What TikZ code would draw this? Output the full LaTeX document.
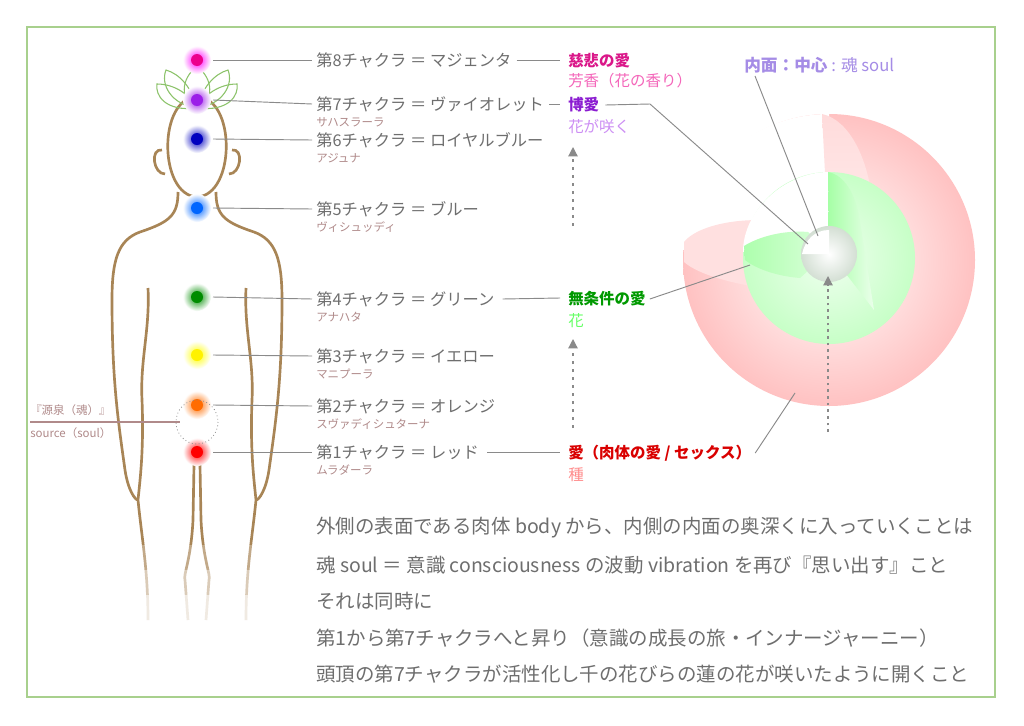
\documentclass[tikz,border=0pt]{standalone}
\usepackage{fontspec}
\setmainfont{Noto Sans CJK JP}
\usetikzlibrary{arrows.meta}
\definecolor{frame}{HTML}{A8D08D}
\definecolor{skin}{HTML}{A88556}
\definecolor{lab}{HTML}{6E6E6E}
\definecolor{sub}{HTML}{B08A8A}
\definecolor{lgrey}{HTML}{8A8A8A}
\definecolor{vio}{HTML}{9B1FE8}
\definecolor{lotus}{HTML}{8CC36A}
\definecolor{lav}{HTML}{A58CE6}
\tikzset{
 lbl/.style={anchor=west,inner sep=0,text=lab,font=\fontsize{12.2pt}{14pt}\selectfont},
 slbl/.style={anchor=west,inner sep=0,text=sub,font=\fontsize{8.6pt}{10pt}\selectfont},
 rlbl/.style={anchor=west,inner sep=0,font=\fontsize{11.6pt}{13pt}\selectfont\bfseries},
 rsub/.style={anchor=west,inner sep=0,font=\fontsize{11.6pt}{13pt}\selectfont},
 body/.style={draw=skin,line width=2pt},
 lead/.style={draw=lgrey,line width=0.7pt},
 dotarrow/.style={draw=lgrey,line width=0.9pt,dash pattern=on 2.5pt off 3.5pt,-{Triangle[length=7pt,width=7pt]}},
 txt/.style={anchor=west,inner sep=0,text=lab,font=\fontsize{14.6pt}{16pt}\selectfont},
}
\begin{document}
\begin{tikzpicture}[x=0.75pt,y=-0.75pt]
\useasboundingbox (0,0) rectangle (1024,725);
\fill[white] (0,0) rectangle (1024,725);
\draw[frame,line width=1.5pt] (27,27) rectangle (995,697);
% body
\draw[body] (197,97) .. controls (158,97) and (158,195) .. (197,197) .. controls (236,195) and (236,97) .. (197,97);
\draw[body] (162,150) .. controls (150,148) and (153,174) .. (165,174);
\draw[body] (232,150) .. controls (244,148) and (241,174) .. (229,174);
\draw[body] (178,192) .. controls (178,215) and (170,222) .. (140,232) .. controls (118,240) and (112,260) .. (112,300) .. controls (112,380) and (118,420) .. (125,470) .. controls (128,490) and (135,500) .. (138,500);
\draw[body] (216,192) .. controls (216,215) and (224,222) .. (254,232) .. controls (276,240) and (282,260) .. (282,300) .. controls (282,380) and (276,420) .. (269,470) .. controls (266,490) and (259,500) .. (256,500);
\draw[body] (148,288) .. controls (150,330) and (140,360) .. (142,400) .. controls (144,450) and (140,480) .. (138,500) .. controls (142,540) and (148,570) .. (148,620);
\draw[body] (246,288) .. controls (244,330) and (254,360) .. (252,400) .. controls (250,450) and (254,480) .. (256,500) .. controls (252,540) and (246,570) .. (246,620);
\draw[body] (194,465) -- (193,520) .. controls (191,560) and (183,575) .. (185,580) -- (188,620);
\draw[body] (200,465) -- (201,520) .. controls (203,560) and (211,575) .. (209,580) -- (206,620);
\fill[white,opacity=0.3] (100,545) rectangle (300,640);
\fill[white,opacity=0.4] (100,570) rectangle (300,640);
\fill[white,opacity=0.6] (100,595) rectangle (300,640);
% lotus
\begin{scope}[draw=lotus,line width=0.8pt,fill=white]
\draw (197,108) .. controls (165,112) and (155,95) .. (157,84) .. controls (175,84) and (190,95) .. (197,108);
\draw (197,108) .. controls (229,112) and (239,95) .. (237,84) .. controls (219,84) and (204,95) .. (197,108);
\draw (197,108) .. controls (172,105) and (160,85) .. (166,70) .. controls (180,74) and (192,88) .. (197,108);
\draw (197,108) .. controls (222,105) and (234,85) .. (228,70) .. controls (214,74) and (202,88) .. (197,108);
\draw (197,108) .. controls (180,100) and (180,80) .. (197,66) .. controls (214,80) and (214,100) .. (197,108);
\end{scope}
% chakras
\foreach \y/\c/\n in {60/magenta/c8,100/vio/c7,139/blue!75!black/c6,208/blue!60!cyan/c5,297/green!55!black/c4,355/yellow/c3,405/orange!85!red/c2,452/red/c1}{
 \shade[inner color=\c,outer color=white] (197,\y) circle (14);
 \fill[\c] (197,\y) circle (6);
 \coordinate (\n) at (213,\y);
}
\draw[lgrey,line width=0.6pt,dotted] (197,422) ellipse (21 and 22);
% left labels
\node[slbl] (src1) at (30,410) {『源泉（魂）』};
\draw[sub,line width=0.8pt] (30,422) coordinate (sl) -- (180,422) coordinate (sr);
\node[slbl] (src2) at (30,433) {source（soul）};
% chakra labels
\foreach \y/\t/\s/\n in {60/第8チャクラ ＝ マジェンタ//c8,104/第7チャクラ ＝ ヴァイオレット/サハスラーラ/c7,140/第6チャクラ ＝ ロイヤルブルー/アジュナ/c6,209/第5チャクラ ＝ ブルー/ヴィシュッディ/c5,299/第4チャクラ ＝ グリーン/アナハタ/c4,356/第3チャクラ ＝ イエロー/マニプーラ/c3,406/第2チャクラ ＝ オレンジ/スヴァディシュターナ/c2,452/第1チャクラ ＝ レッド/ムラダーラ/c1}{
 \node[lbl] (L\n) at (316,\y) {\t};
 \node[slbl] at (316,\y+18) {\s};
 \draw[lead] (\n) -- (312,\y);
}
% right labels
\node[rlbl,text=magenta!90!black] (R8) at (568,61) {慈悲の愛};
\node[rsub,text=magenta!60] at (568,81) {芳香（花の香り）};
\node[rlbl,text=vio!90!black] (R7) at (568,105) {博愛};
\node[rsub,text=vio!50] at (568,127) {花が咲く};
\node[rlbl,text=green!60!black] (R4) at (568,299) {無条件の愛};
\node[rsub,text=green!60] at (568,321) {花};
\node[rlbl,text=red!85!black] (R1) at (568,453) {愛（肉体の愛 / セックス）};
\node[rsub,text=red!45] at (568,475) {種};
\draw[lead] (Lc8.east)+(5,0) -- (560,60);
\draw[lead] (Lc7.east)+(5,0) -- (560,104);
\draw[lead] (Lc4.east)+(8,0) -- (560,298);
\draw[lead] (Lc1.east)+(8,0) -- (560,452);
\draw[dotarrow] (573,226) -- (573,147);
\draw[dotarrow] (573,428) -- (573,339);
% sphere outer
\shade[inner color=white,outer color=red!24] (829,260) circle (146);
\fill[white] (829,250) -- (829,114) .. controls (750,114) and (683,175) .. (683,250) -- cycle;
\fill[red!12] (684,242) .. controls (700,222) and (760,212) .. (812,228) -- (829,252) -- (790,292) .. controls (740,286) and (700,276) .. (684,262) -- cycle;
\shade[top color=red!14,bottom color=red!4] (829,252) -- (822,114) .. controls (850,120) and (868,160) .. (872,200) -- (872,305) -- cycle;
% green
\shade[inner color=green!6,outer color=green!22] (829,258) circle (86);
\fill[white] (829,250) -- (829,172) .. controls (785,172) and (743,210) .. (743,252) -- cycle;
\shade[left color=green!32,right color=green!14] (744,246) .. controls (760,236) and (785,230) .. (808,232) -- (829,252) -- (800,278) .. controls (775,276) and (755,268) .. (745,260) -- cycle;
\shade[left color=green!35,right color=green!8] (829,252) -- (828,172) .. controls (845,175) and (855,195) .. (859,215) -- (874,310) -- cycle;
% core
\shade[inner color=white,outer color=green!15!gray!30] (829,254) circle (28);
\fill[white] (829,254) -- (829,230) .. controls (815,230) and (805,240) .. (802,254) -- cycle;
\node[anchor=west,inner sep=0,text=lav,font=\fontsize{12.5pt}{14pt}\selectfont\bfseries] (inner) at (744,65) {内面：中心 \normalfont: 魂 soul};
\coordinate (core) at (818,236);
\coordinate (core2) at (808,244);
\draw[lead] (R7.east)+(6,0) -- (650,104) -- (core2);
\draw[lead] (755,76) -- (core);
\draw[lead] (R4.east)+(4,0) -- (750,265);
\draw[lead] (R1.east)+(4,0) -- (795,393);
\draw[dotarrow,dash pattern=on 2pt off 3pt] (828,432) -- (828,276);
% bottom text
\node[txt] (t1) at (316,528) {外側の表面である肉体 body から、内側の内面の奥深くに入っていくことは};
\node[txt] (t2) at (316,565) {魂 soul ＝ 意識 consciousness の波動 vibration を再び『思い出す』こと};
\node[txt] (t3) at (316,601) {それは同時に};
\node[txt] (t4) at (316,638) {第1から第7チャクラへと昇り（意識の成長の旅・インナージャーニー）};
\node[txt] (t5) at (316,674) {頭頂の第7チャクラが活性化し千の花びらの蓮の花が咲いたように開くこと};
\end{tikzpicture}
\end{document}
